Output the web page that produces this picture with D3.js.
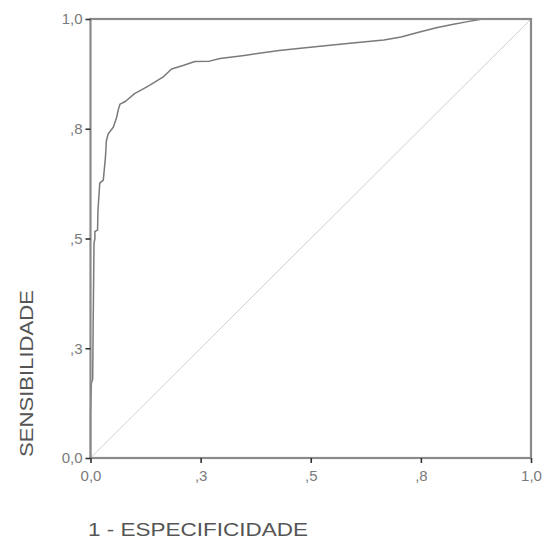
<!DOCTYPE html>
<html>
<head>
<meta charset="utf-8">
<script src="https://cdn.jsdelivr.net/npm/d3@7/dist/d3.min.js"></script>
<style>
  html, body { margin: 0; padding: 0; background: #fff; }
  svg { display: block; }
</style>
</head>
<body>
<svg id="chart" width="547" height="539"></svg>
<script>
// ROC curve data (1 - especificidade, sensibilidade)
const fpr = [0.000, 0.000, 0.002, 0.005, 0.006, 0.008, 0.010, 0.010, 0.016, 0.017, 0.021, 0.029, 0.034, 0.036, 0.040, 0.052, 0.059, 0.063, 0.067, 0.079, 0.100, 0.127, 0.146, 0.165, 0.184, 0.210, 0.237, 0.270, 0.294, 0.349, 0.428, 0.510, 0.589, 0.666, 0.705, 0.745, 0.785, 0.824, 0.856, 0.890, 1.000];
const tpr = [0.000, 0.100, 0.170, 0.180, 0.300, 0.489, 0.500, 0.516, 0.519, 0.565, 0.626, 0.633, 0.686, 0.722, 0.738, 0.754, 0.775, 0.793, 0.806, 0.812, 0.830, 0.845, 0.856, 0.868, 0.886, 0.894, 0.903, 0.904, 0.910, 0.917, 0.928, 0.937, 0.945, 0.952, 0.959, 0.970, 0.980, 0.988, 0.994, 1.000, 1.000];
const refLine = [0, 1];
const tickValues = [0, 0.25, 0.5, 0.75, 1];
const tickLabels = ["0,0", ",3", ",5", ",8", "1,0"];
const xTitle = "1 - ESPECIFICIDADE";
const yTitle = "SENSIBILIDADE";

const svg = d3.select("#chart");
const mLeft = 90.5, mRight = 531, mTop = 19, mBottom = 458;

const x = d3.scaleLinear().domain([0, 1]).range([mLeft, mRight]);
const y = d3.scaleLinear().domain([0, 1]).range([mBottom, mTop]);

// reference diagonal
svg.append("line")
  .attr("x1", x(refLine[0])).attr("y1", y(refLine[0]))
  .attr("x2", x(refLine[1])).attr("y2", y(refLine[1]))
  .attr("stroke", "#cfcfcf").attr("stroke-width", 1);

// ROC curve
const pts = fpr.map((d, i) => [d, tpr[i]]);
svg.append("path")
  .datum(pts)
  .attr("fill", "none")
  .attr("stroke", "#7a7a7a")
  .attr("stroke-width", 1.5)
  .attr("stroke-linejoin", "round")
  .attr("d", d3.line().x(d => x(d[0])).y(d => y(d[1])));

// frame
svg.append("rect")
  .attr("x", mLeft).attr("y", mTop)
  .attr("width", mRight - mLeft).attr("height", mBottom - mTop)
  .attr("fill", "none").attr("stroke", "#8a8a8a").attr("stroke-width", 2.2);

const fmt = v => tickLabels[tickValues.indexOf(v)];

// x axis
const xAxis = svg.append("g")
  .attr("transform", `translate(0,${mBottom})`)
  .call(d3.axisBottom(x).tickValues(tickValues).tickFormat(fmt).tickSize(5).tickPadding(7));
// y axis
const yAxis = svg.append("g")
  .attr("transform", `translate(${mLeft},0)`)
  .call(d3.axisLeft(y).tickValues(tickValues).tickFormat(fmt).tickSize(5).tickPadding(3));

[xAxis, yAxis].forEach(g => {
  g.select(".domain").remove();
  g.selectAll(".tick line").attr("stroke", "#333").attr("stroke-width", 1.6);
  g.selectAll(".tick text")
    .attr("fill", "#7a7a7a")
    .style("font-family", "'Liberation Sans', Arial, sans-serif")
    .style("font-size", "15px");
});

// axis titles
svg.append("text")
  .attr("transform", "translate(33,457) rotate(-90)")
  .attr("text-anchor", "start")
  .attr("fill", "#555")
  .attr("textLength", 167)
  .attr("lengthAdjust", "spacingAndGlyphs")
  .style("font-family", "'Liberation Sans', Arial, sans-serif")
  .style("font-size", "19px")
  .text(yTitle);

svg.append("text")
  .attr("x", 88).attr("y", 536)
  .attr("fill", "#555")
  .attr("textLength", 220)
  .attr("lengthAdjust", "spacingAndGlyphs")
  .style("font-family", "'Liberation Sans', Arial, sans-serif")
  .style("font-size", "19px")
  .text(xTitle);
</script>
</body>
</html>
